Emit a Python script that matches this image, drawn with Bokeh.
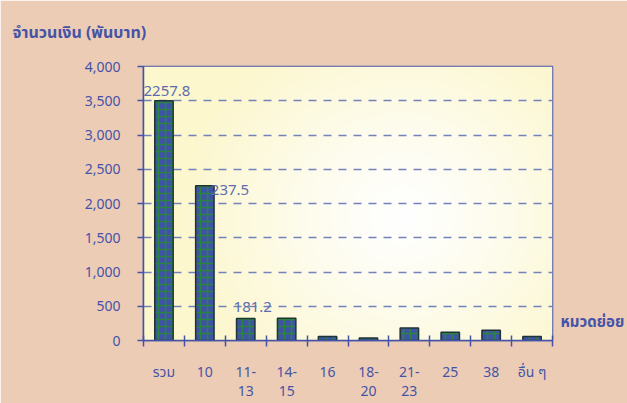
import numpy as np
from bokeh.plotting import figure
from bokeh.models import (ColumnDataSource, FixedTicker, NumeralTickFormatter,
                          LinearAxis, Range1d)
from bokeh.core.properties import value
from bokeh.embed import file_html
from bokeh.resources import INLINE

categories = ["รวม", "10", "11-13", "14-15", "16", "18-20", "21-23", "25", "38", "อื่น ๆ"]
tick_line1 = ["รวม", "10", "11-", "14-", "16", "18-", "21-", "25", "38", "อื่น ๆ"]
tick_line2 = ["", "", "13", "15", "", "20", "23", "", "", ""]
amounts = [3500, 2257.8, 321, 325, 58, 38, 181.2, 122, 151, 58]
label_texts = ["2257.8", "237.5", "181.2"]
label_bars = [0, 1, 2]
y_ticks = [0, 500, 1000, 1500, 2000, 2500, 3000, 3500, 4000]
right_label = "หมวดย่อย"
right_label_at = 263

FONT = "'Noto Sans Thai', 'Noto Sans', 'DejaVu Sans', sans-serif"
BLUE = "#4553A6"
BG = "#EDCCB6"

n = len(categories)
xs = np.arange(n) + 0.5
ymax = y_ticks[-1]

p = figure(width=627, height=403, output_backend="svg", toolbar_location=None,
           x_range=Range1d(0, n), y_range=Range1d(0, ymax),
           min_border_left=143, min_border_right=75, min_border_bottom=63,
           min_border_top=66)
p.background_fill_color = BG
p.border_fill_color = BG
p.outline_line_color = BLUE
p.outline_line_width = 1.5

# radial gradient background of plot area
H, W = 120, 200
yy, xx = np.mgrid[0:H, 0:W]
cx, cy = 0.63 * W, 0.45 * H
d = np.sqrt(((xx - cx) / (0.55 * W)) ** 2 + ((yy - cy) / (0.75 * H)) ** 2)
t = np.clip(d, 0, 1) ** 1.2
white = np.array([255, 255, 255])
yellow = np.array([252, 247, 205])
img = np.zeros((H, W), dtype=np.uint32)
view = img.view(dtype=np.uint8).reshape((H, W, 4))
for k in range(3):
    view[:, :, k] = (white[k] * (1 - t) + yellow[k] * t).astype(np.uint8)
view[:, :, 3] = 255
p.image_rgba(image=[img], x=0, y=0, dw=n, dh=ymax, level="image")

p.grid.visible = False
p.ygrid.visible = True
p.ygrid.ticker = FixedTicker(ticks=y_ticks)
p.ygrid.grid_line_color = "#7482BC"
p.ygrid.grid_line_dash = "8 7"
p.ygrid.grid_line_width = 1.5
p.ygrid.level = "underlay"

src = ColumnDataSource(dict(x=xs, top=amounts))
p.vbar(x="x", top="top", width=0.45, source=src,
       fill_color="#3F51A8", hatch_pattern="cross",
       hatch_color="#2A8440", hatch_scale=7, hatch_weight=1.6,
       line_color="#1F3236", line_width=1.5)

# data labels
lx = [xs[i] for i in label_bars]
ly = [amounts[i] for i in label_bars]
lsrc = ColumnDataSource(dict(x=lx, y=ly, text=label_texts,
                             xo=[3, 6, 7], yo=[-5, 4, -7],
                             align=["center", "left", "center"],
                             base=["bottom", "middle", "bottom"]))
p.text(x="x", y="y", text="text", x_offset="xo", y_offset="yo",
       text_align="align", text_baseline="base", source=lsrc,
       text_font=value("Noto Sans"), text_font_size="15px",
       text_color="#5E6CAE")

# x axis: first line of category labels
xa = p.xaxis[0]
xa.ticker = FixedTicker(ticks=list(xs), minor_ticks=list(range(n + 1)))
xa.major_label_overrides = {float(x): lab for x, lab in zip(xs, tick_line1)}
xa.major_tick_line_color = None
xa.major_tick_in = 0
xa.major_tick_out = 0
xa.minor_tick_line_color = BLUE
xa.minor_tick_in = 5
xa.minor_tick_out = 6
xa.minor_tick_line_width = 1.5
xa.axis_line_color = BLUE
xa.axis_line_width = 1.5
xa.major_label_standoff = 15
xa.major_label_text_font = FONT
xa.major_label_text_font_size = "14px"
xa.major_label_text_color = BLUE

# second line of the wrapped category labels
xb = LinearAxis(ticker=FixedTicker(ticks=list(xs)))
xb.major_label_overrides = {float(x): lab for x, lab in zip(xs, tick_line2)}
xb.axis_line_color = None
xb.major_tick_line_color = None
xb.minor_tick_line_color = None
xb.major_tick_in = 0
xb.major_tick_out = 0
xb.major_label_standoff = 0
xb.major_label_text_font = FONT
xb.major_label_text_font_size = "14px"
xb.major_label_text_color = BLUE
p.add_layout(xb, "below")

ya = p.yaxis[0]
ya.ticker = FixedTicker(ticks=y_ticks)
ya.formatter = NumeralTickFormatter(format="0,0")
ya.axis_line_color = BLUE
ya.axis_line_width = 1.5
ya.major_tick_line_color = BLUE
ya.major_tick_line_width = 1.5
ya.major_tick_in = 0
ya.major_tick_out = 6
ya.minor_tick_line_color = None
ya.major_label_standoff = 17
ya.major_label_text_font = FONT
ya.major_label_text_font_size = "14px"
ya.major_label_text_color = BLUE

# right-side category caption
p.extra_y_ranges = {"cap": Range1d(0, ymax)}
ra = LinearAxis(y_range_name="cap", ticker=FixedTicker(ticks=[right_label_at]))
ra.major_label_overrides = {right_label_at: right_label}
ra.axis_line_color = None
ra.major_tick_line_color = None
ra.minor_tick_line_color = None
ra.major_tick_in = 0
ra.major_tick_out = 0
ra.major_label_standoff = 8
ra.major_label_text_font = FONT
ra.major_label_text_font_size = "15px"
ra.major_label_text_font_style = "bold"
ra.major_label_text_color = BLUE
p.add_layout(ra, "right")

p.title.text = "จำนวนเงิน (พันบาท)"
p.title.text_font = FONT
p.title.text_font_size = "16px"
p.title.text_font_style = "bold"
p.title.text_color = BLUE
p.title.offset = -131
p.title.vertical_align = "top"
p.title.standoff = 40

open("out.html", "w").write(file_html(p, INLINE))
